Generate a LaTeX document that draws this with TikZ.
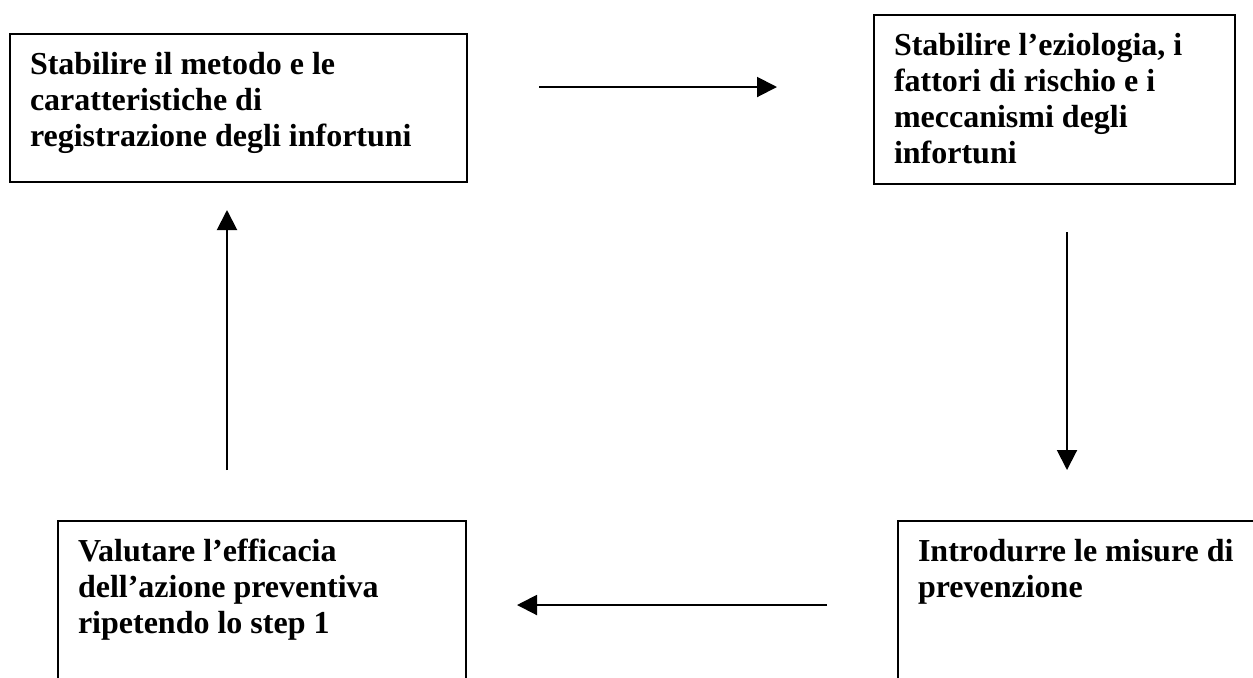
\documentclass[tikz,border=0pt]{standalone}
\usepackage{fontspec}
\setmainfont{Liberation Serif}
\usetikzlibrary{arrows.meta,calc}
\newcommand{\steptext}[3]{\parbox[t][#2][t]{#1}{\raggedright\rule{0pt}{20pt}#3}}
\tikzset{stepbox/.style={draw,line width=1pt,anchor=north west,inner xsep=10pt,inner ysep=0pt,
  font=\fontsize{16pt}{18pt}\selectfont\bfseries},
flow/.style={line width=1pt,-{Triangle[length=10pt,width=10pt]}}}
\begin{document}
\begin{tikzpicture}[x=0.5pt,y=-0.5pt]
\useasboundingbox (0,0) rectangle (1253,677);
\clip (0,0) rectangle (1253,677);
% the four steps
\node[stepbox] (b1) at (9,33) {\steptext{208.5pt}{74pt}{Stabilire il metodo e le\\caratteristiche di\\registrazione degli infortuni}};
\node[stepbox] (b2) at (873,14) {\steptext{160.5pt}{84.5pt}{Stabilire l’eziologia, i\\fattori di rischio e i\\meccanismi degli\\infortuni}};
\node[stepbox] (b3) at (897,520) {\steptext{170pt}{100pt}{Introdurre le misure di\\prevenzione}};
\node[stepbox] (b4) at (57,520) {\steptext{184pt}{100pt}{Valutare l’efficacia\\dell’azione preventiva\\ripetendo lo step 1}};
% arrows of the cycle
\draw[flow] ($(b1.east)+(71,-21)$) -- ($(b2.west)+(-96,-12.5)$);
\draw[flow] ($(b2.south)+(12.5,47)$) -- ($(b3.north)+(-21,-50)$);
\draw[flow] ($(b3.west)+(-70,-16)$) -- ($(b4.east)+(50,-16)$);
\draw[flow] ($(b4.north)+(-35,-50)$) -- ($(b1.south)+(-11.5,27)$);
\end{tikzpicture}
\end{document}
